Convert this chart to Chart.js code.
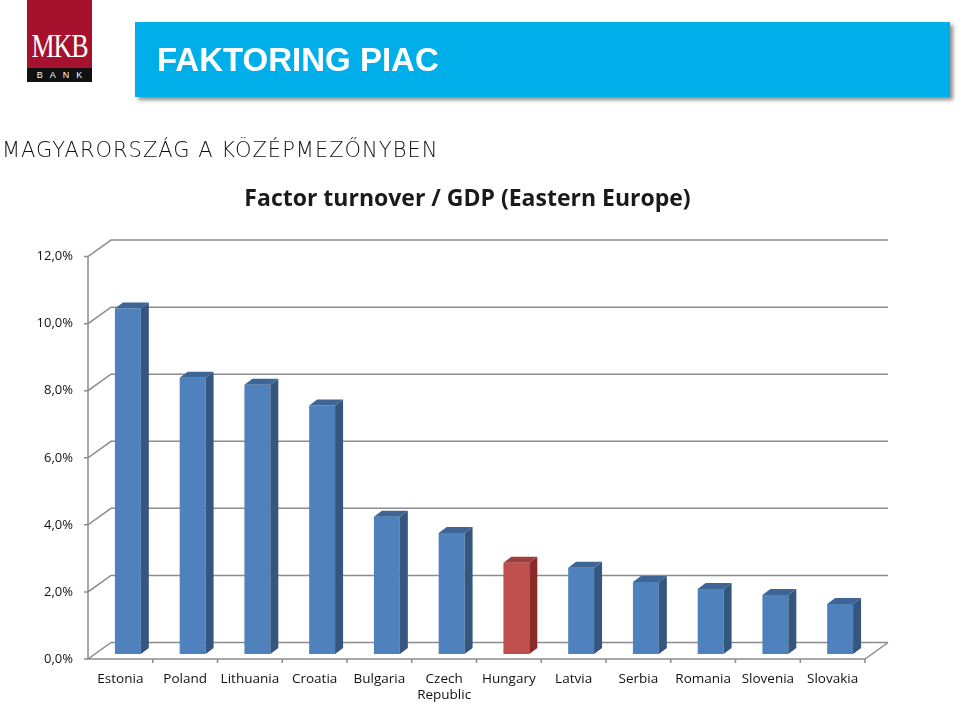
<!DOCTYPE html>
<html>
<head>
<meta charset="utf-8">
<script src="https://cdn.jsdelivr.net/npm/chart.js@4.4.1/dist/chart.umd.min.js"></script>
<style>
  html, body { margin: 0; padding: 0; background: #fff; }
  #page { position: relative; width: 960px; height: 707px; overflow: hidden; }
  #chart { position: absolute; left: 0; top: 0; }
  .logo { position: absolute; left: 27px; top: 0; width: 65px; height: 68px; background: #a6122d; }
  .logo span { position: absolute; left: 0; right: 0; top: 30px; color: #fff; font-family: "Liberation Serif", serif;
               font-size: 26px; line-height: 26px; text-align: center; letter-spacing: -1px;
               transform: scaleY(1.3); transform-origin: top; }
  .band { position: absolute; left: 27px; top: 68px; width: 65px; height: 14px; background: #111;
          color: #fff; font-family: "Liberation Sans", sans-serif; font-size: 9px; line-height: 14px;
          text-align: center; letter-spacing: 7px; text-indent: 7px; }
  .banner { position: absolute; left: 135px; top: 22px; width: 815px; height: 75px; background: #00aeea;
            box-shadow: 3px 3px 4px rgba(0,0,0,0.45); }
  .banner span { position: absolute; left: 22px; top: 19px; color: #fff; font-family: "Liberation Sans", sans-serif;
                 font-weight: bold; font-size: 33px; line-height: 38px; }
  .sub { position: absolute; left: 2px; top: 136px; font-family: "DejaVu Sans", sans-serif; font-weight: 200;
         font-size: 21px; line-height: 28px; color: #111; letter-spacing: 1px; }
</style>
</head>
<body>
<div id="page">
  <canvas id="chart" width="960" height="707"></canvas>
  <div class="logo"><span>MKB</span></div>
  <div class="band">BANK</div>
  <div class="banner"><span>FAKTORING PIAC</span></div>
  <div class="sub">MAGYARORSZÁG A KÖZÉPMEZŐNYBEN</div>
</div>
<script>
const countries = ["Estonia", "Poland", "Lithuania", "Croatia", "Bulgaria", ["Czech", "Republic"],
  "Hungary", "Latvia", "Serbia", "Romania", "Slovenia", "Slovakia"];
const turnoverGdp = [10.3, 8.24, 8.03, 7.41, 4.09, 3.61, 2.72, 2.57, 2.15, 1.94, 1.76, 1.49];
const highlight = "Hungary";

const frontColors = countries.map(c => c === highlight ? "#c0504d" : "#4f81bd");
const sideColors = countries.map(c => c === highlight ? "#8a2b29" : "#34567f");
const topColors = countries.map(c => c === highlight ? "#a03e3b" : "#3d6596");

// depth of the walls, position of bars inside the depth, bar thickness
const wall = { dx: 23, dy: -16.5 };
const shift = { dx: 7.5, dy: -5 };
const bar3d = { dx: 8, dy: -6 };
const gridColor = "#8c8c8c";

const pseudo3d = {
  id: "pseudo3d",
  beforeDatasetsDraw(chart) {
    const { ctx, chartArea: a, scales: { x, y } } = chart;
    ctx.save();
    ctx.strokeStyle = gridColor;
    ctx.lineWidth = 1.5;
    ctx.beginPath();
    y.ticks.forEach(t => {
      const py = y.getPixelForValue(t.value);
      ctx.moveTo(a.left - 4, py);
      ctx.lineTo(a.left, py);
      ctx.lineTo(a.left + wall.dx, py + wall.dy);
      ctx.lineTo(a.right + wall.dx, py + wall.dy);
    });
    // front axis and floor
    ctx.moveTo(a.left, a.top);
    ctx.lineTo(a.left, a.bottom);
    ctx.lineTo(a.right, a.bottom);
    ctx.lineTo(a.right + wall.dx, a.bottom + wall.dy);
    const step = (a.right - a.left) / countries.length;
    for (let i = 1; i <= countries.length; i++) {
      const px = a.left + step * i;
      ctx.moveTo(px, a.bottom);
      ctx.lineTo(px, a.bottom + 4);
    }
    ctx.stroke();
    ctx.restore();
    ctx.save();
    ctx.translate(shift.dx, shift.dy);
  },
  afterDatasetsDraw(chart) {
    const { ctx } = chart;
    const meta = chart.getDatasetMeta(0);
    meta.data.forEach((el, i) => {
      const { x, y, base, width } = el.getProps(["x", "y", "base", "width"], true);
      const l = x - width / 2, r = x + width / 2;
      ctx.fillStyle = sideColors[i];
      ctx.beginPath();
      ctx.moveTo(r, y);
      ctx.lineTo(r + bar3d.dx, y + bar3d.dy);
      ctx.lineTo(r + bar3d.dx, base + bar3d.dy);
      ctx.lineTo(r, base);
      ctx.closePath();
      ctx.fill();
      ctx.fillStyle = topColors[i];
      ctx.beginPath();
      ctx.moveTo(l, y);
      ctx.lineTo(l + bar3d.dx, y + bar3d.dy);
      ctx.lineTo(r + bar3d.dx, y + bar3d.dy);
      ctx.lineTo(r, y);
      ctx.closePath();
      ctx.fill();
    });
    ctx.restore();
  }
};

new Chart(document.getElementById("chart"), {
  type: "bar",
  data: {
    labels: countries,
    datasets: [{
      data: turnoverGdp,
      backgroundColor: frontColors,
      borderWidth: 0,
      categoryPercentage: 1,
      barPercentage: 0.4
    }]
  },
  options: {
    responsive: false,
    animation: false,
    layout: { padding: { left: 0, right: 25, top: 186, bottom: 0 } },
    plugins: {
      legend: { display: false },
      tooltip: { enabled: false },
      title: {
        display: true,
        text: "Factor turnover / GDP (Eastern Europe)",
        color: "#1a1a1a",
        font: { family: "Open Sans", size: 23, weight: "bold" },
        padding: { top: 0, bottom: 43 }
      }
    },
    scales: {
      x: {
        grid: { display: false, drawTicks: false },
        border: { display: false },
        ticks: { color: "#111", font: { family: "Open Sans", size: 13.5 }, padding: 12, maxRotation: 0, autoSkip: false },
        afterFit: s => { s.height = 48; }
      },
      y: {
        min: 0, max: 12,
        grid: { display: false, drawTicks: false },
        border: { display: false },
        ticks: {
          stepSize: 2, color: "#111", padding: 15,
          font: { family: "Open Sans", size: 13 },
          callback: v => v.toFixed(1).replace(".", ",") + "%"
        },
        afterFit: s => { s.width = 88; }
      },
      // empty right box so the chart area ends at the floor's front edge
      yRight: {
        position: "right",
        grid: { display: false, drawTicks: false },
        border: { display: false },
        ticks: { display: false },
        afterFit: s => { s.width = 70; }
      }
    }
  },
  plugins: [pseudo3d]
});
</script>
</body>
</html>
